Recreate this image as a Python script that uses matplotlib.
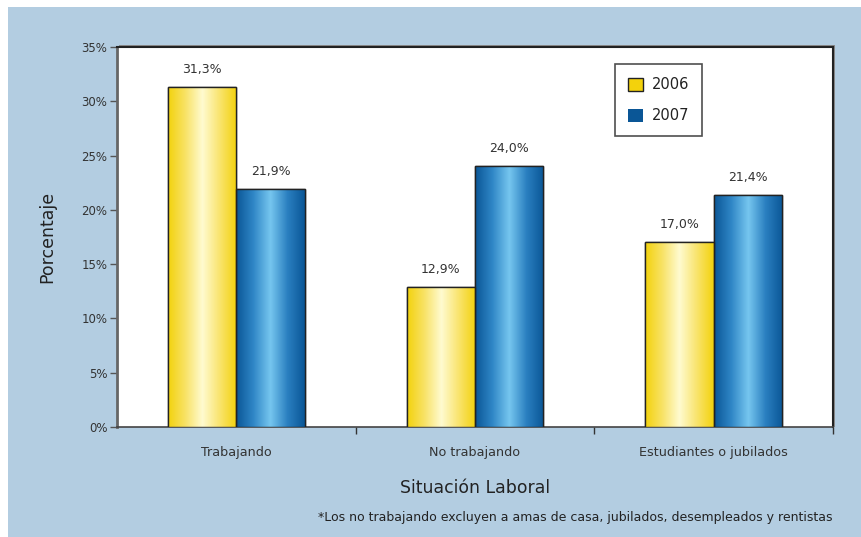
import numpy as np
import matplotlib.pyplot as plt
from matplotlib.patches import Rectangle, Patch
from matplotlib.colors import LinearSegmentedColormap

categorias = ['Trabajando', 'No trabajando', 'Estudiantes o jubilados']
valores_2006 = [31.3, 12.9, 17.0]
valores_2007 = [21.9, 24.0, 21.4]
etiquetas_2006 = ['31,3%', '12,9%', '17,0%']
etiquetas_2007 = ['21,9%', '24,0%', '21,4%']
yticks = [0, 5, 10, 15, 20, 25, 30, 35]

plt.rcParams['font.family'] = ['DejaVu Sans']
txt = '#333333'

fig = plt.figure(figsize=(8.61, 5.37), dpi=100, facecolor='white')
# blue frame background
fig.patches.append(Rectangle((8 / 861, 0), 1, 1 - 7 / 537, transform=fig.transFigure,
                             facecolor='#b3cde1', edgecolor='none', zorder=-10))

ax = fig.add_axes([117 / 861, 1 - 427 / 537, 716 / 861, 380 / 537])
ax.set_facecolor('white')
# shadow behind plot area (top/right)
fig.patches.append(Rectangle((119 / 861, 1 - 427 / 537), 716 / 861, 382 / 537,
                             transform=fig.transFigure, facecolor='#8a8a8a',
                             edgecolor='none', zorder=-5))

yellow = LinearSegmentedColormap.from_list('y', ['#f3d20c', '#f8e265', '#fffbd0', '#f9e46e', '#f3d20c'])
blue = LinearSegmentedColormap.from_list('b', ['#0a5696', '#2f86c6', '#76c6ef', '#2a7fc0', '#0a5696'])

x = np.arange(len(categorias))
w = 0.287
b1 = ax.bar(x - w / 2, valores_2006, w, color='#f3d20c', edgecolor='#222222', linewidth=1.0, zorder=3)
b2 = ax.bar(x + w / 2, valores_2007, w, color='#0a5696', edgecolor='#222222', linewidth=1.0, zorder=3)

grad = np.linspace(0, 1, 256).reshape(1, -1)
for bars, cmap in ((b1, yellow), (b2, blue)):
    for r in bars:
        x0, y0 = r.get_x(), r.get_y()
        im = ax.imshow(grad, cmap=cmap, aspect='auto', zorder=3.5,
                       extent=(x0, x0 + r.get_width(), y0, y0 + r.get_height()))
        im.set_clip_path(r)
        edge = Rectangle((x0, y0), r.get_width(), r.get_height(), fill=False,
                         edgecolor='#222222', linewidth=1.0, zorder=4)
        ax.add_patch(edge)

for bars, labs in ((b1, etiquetas_2006), (b2, etiquetas_2007)):
    for r, lab in zip(bars, labs):
        ax.annotate(lab, (r.get_x() + r.get_width() / 2, r.get_height()),
                    xytext=(0, 8), textcoords='offset points', ha='center',
                    va='bottom', fontsize=9, color=txt)

ax.set_xlim(-0.5, 2.5)
ax.set_ylim(0, 35)
ax.set_yticks(yticks)
ax.set_yticklabels([f'{v}%' for v in yticks], fontsize=8.5, color=txt)
ax.set_xticks(x)
ax.set_xticklabels(categorias, fontsize=9.2, color=txt)
ax.tick_params(axis='x', which='major', length=0, pad=14)
ax.set_xticks([0.5, 1.5, 2.5], minor=True)
ax.tick_params(axis='x', which='minor', length=5, width=1, color='#333333')
ax.tick_params(axis='y', length=5, width=1, color='#555555', pad=2)

for s in ('top', 'right'):
    ax.spines[s].set_color('#222222')
    ax.spines[s].set_linewidth(1.5)
ax.spines['left'].set_color('#666666')
ax.spines['left'].set_linewidth(2)
ax.spines['bottom'].set_color('#444444')
ax.spines['bottom'].set_linewidth(1.2)

ax.set_ylabel('Porcentaje', fontsize=12.5, color='#222222', labelpad=18)
ax.set_xlabel('Situación Laboral', fontsize=12.4, color='#222222', labelpad=14)

handles = [Patch(facecolor='#f3d20c', edgecolor='#222222', linewidth=1, label='2006'),
           Patch(facecolor='#0a5696', edgecolor='none', label='2007')]
leg = ax.legend(handles=handles, loc='upper left', bbox_to_anchor=(0.6955, 0.955),
                fontsize=10.5, frameon=True, fancybox=False, handlelength=1,
                handleheight=1, handletextpad=0.6, labelspacing=1.1,
                borderpad=0.9, borderaxespad=0)
leg.get_frame().set_edgecolor('#222222')
leg.get_frame().set_linewidth(1.2)
for t in leg.get_texts():
    t.set_color('#222222')

fig.text(833 / 861, 1 - 518 / 537,
         '*Los no trabajando excluyen a amas de casa, jubilados, desempleados y rentistas',
         ha='right', va='center', fontsize=9, color='#222222')

fig.savefig('out.png', dpi=100, facecolor=fig.get_facecolor())
